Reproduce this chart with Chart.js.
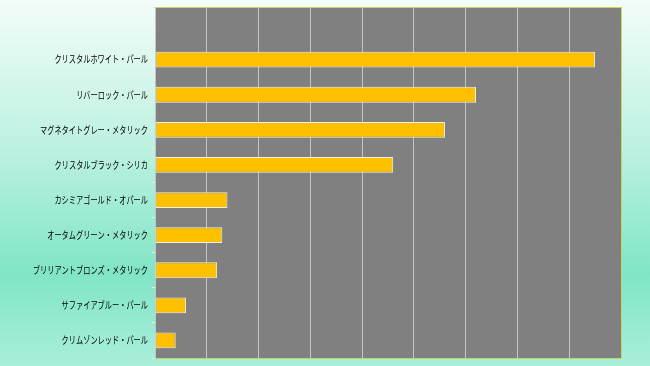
<!DOCTYPE html>
<html>
<head>
<meta charset="utf-8">
<script src="https://cdn.jsdelivr.net/npm/chart.js@4/dist/chart.umd.min.js"></script>
<style>
  html, body { margin: 0; padding: 0; }
  #wrap { width: 650px; height: 366px; }
</style>
</head>
<body>
<div id="wrap"><canvas id="colorChart" width="650" height="366"></canvas></div>
<script>
// categories top to bottom (first row is blank in the original)
const categories = [
  "",
  "クリスタルホワイト・パール",
  "リバーロック・パール",
  "マグネタイトグレー・メタリック",
  "クリスタルブラック・シリカ",
  "カシミアゴールド・オパール",
  "オータムグリーン・メタリック",
  "ブリリアントブロンズ・メタリック",
  "サファイアブルー・パール",
  "クリムゾンレッド・パール"
];
const shares = [null, 85, 62, 56, 46, 14, 13, 12, 6, 4];
const axisMax = 90;
const axisStep = 10;

// background gradient + grey plot area + frame
const backdrop = {
  id: "backdrop",
  beforeDraw(chart) {
    const { ctx, width, height, chartArea: a } = chart;
    ctx.save();
    const g = ctx.createLinearGradient(0, 0, 0, height);
    g.addColorStop(0, "#f3fcf9");
    g.addColorStop(0.4, "#bdf1e1");
    g.addColorStop(0.75, "#80e5c6");
    g.addColorStop(1, "#aaeedb");
    ctx.fillStyle = g;
    ctx.fillRect(0, 0, width, height);
    ctx.fillStyle = "#808080";
    ctx.fillRect(a.left, a.top, a.right - a.left, a.bottom - a.top);
    ctx.restore();
  },
  afterDraw(chart) {
    const { ctx, chartArea: a } = chart;
    ctx.save();
    ctx.strokeStyle = "#c9d65e";
    ctx.lineWidth = 1;
    ctx.beginPath();
    ctx.moveTo(a.left, a.top + 0.5);
    ctx.lineTo(a.right + 0.5, a.top + 0.5);
    ctx.lineTo(a.right + 0.5, a.bottom + 0.5);
    ctx.lineTo(a.left, a.bottom + 0.5);
    ctx.stroke();

    // category labels, squeezed a bit like the proportional font in the original
    const y = chart.scales.y;
    ctx.font = "10px 'Noto Sans CJK JP', sans-serif";
    ctx.fillStyle = "#000000";
    ctx.textAlign = "right";
    ctx.textBaseline = "middle";
    categories.forEach((lbl, i) => {
      if (!lbl) return;
      const w = ctx.measureText(lbl).width * 0.72;
      ctx.fillText(lbl, a.left - 7, y.getPixelForValue(i), w);
    });
    ctx.restore();
  }
};

new Chart(document.getElementById("colorChart").getContext("2d"), {
  type: "bar",
  data: {
    labels: categories,
    datasets: [{
      data: shares,
      backgroundColor: "#ffc000",
      borderColor: "#f2f0e6",
      borderWidth: 1,
      borderSkipped: false,
      categoryPercentage: 1.0,
      barPercentage: 0.45
    }]
  },
  options: {
    indexAxis: "y",
    responsive: false,
    animation: false,
    layout: { padding: { left: 0, top: 7, right: 29, bottom: 8 } },
    plugins: {
      legend: { display: false },
      tooltip: { enabled: false }
    },
    scales: {
      x: {
        min: 0,
        max: axisMax,
        ticks: { display: false, stepSize: axisStep },
        grid: { color: "#c4c4c4", drawTicks: false },
        border: { display: false },
        afterFit(scale) { scale.height = 0; }
      },
      y: {
        ticks: { display: false },
        grid: {
          offset: true,
          drawOnChartArea: false,
          tickLength: 3,
          color: "#d8f3ea"
        },
        border: { display: false },
        afterFit(scale) { scale.width = 155; }
      }
    }
  },
  plugins: [backdrop]
});
</script>
</body>
</html>
